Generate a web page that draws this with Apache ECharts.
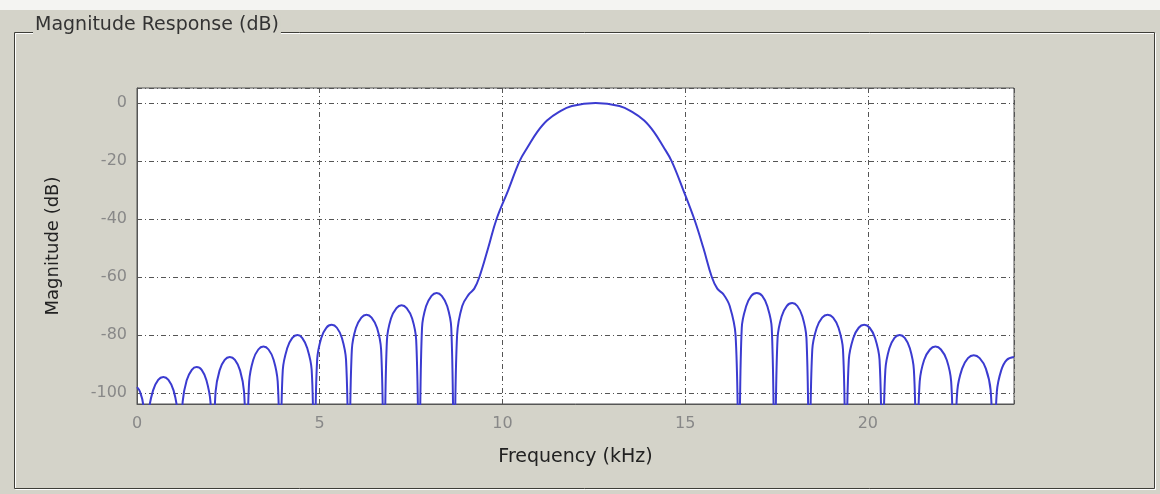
<!DOCTYPE html>
<html lang="en">
<head>
    <meta charset="UTF-8">
    <title>Magnitude Response (dB)</title>
    <script src="https://cdn.jsdelivr.net/npm/echarts@6/dist/echarts.min.js"></script>
</head>
<body style="margin:0;background:#d4d3c9;">
<div id="main" style="width: 1160px;height: 494px;"></div>
</body>
    <script type="text/javascript">
        // frequency (kHz) and magnitude (dB); nulls sit below the axis and get clipped
        var freqKHz = [
            0.00, 0.08, 0.17, 0.25,
            0.32, 0.44, 0.58, 0.72, 0.86, 1.00, 1.11, 1.18,
            1.25, 1.36, 1.50, 1.63, 1.77, 1.90, 2.01, 2.08,
            2.15, 2.26, 2.40, 2.54, 2.68, 2.82, 2.93, 3.00,
            3.07, 3.18, 3.32, 3.46, 3.60, 3.74, 3.85, 3.92,
            3.99, 4.11, 4.25, 4.39, 4.52, 4.66, 4.78, 4.85,
            4.93, 5.04, 5.18, 5.33, 5.47, 5.61, 5.72, 5.80,
            5.88, 5.99, 6.14, 6.28, 6.42, 6.57, 6.68, 6.76,
            6.84, 6.95, 7.10, 7.24, 7.38, 7.53, 7.64, 7.72,
            7.80, 7.91, 8.06, 8.20, 8.34, 8.49, 8.60, 8.68,
            8.76, 8.90, 9.08, 9.23, 9.37, 9.61, 9.84, 10.16, 10.47, 10.70, 10.95, 11.22, 11.55, 11.90,
            12.55,
            13.20, 13.55, 13.88, 14.15, 14.40, 14.63, 14.95, 15.25, 15.50, 15.73, 15.88, 16.05, 16.22, 16.38, 16.47,
            16.55, 16.67, 16.81, 16.96, 17.11, 17.25, 17.37, 17.45,
            17.53, 17.64, 17.78, 17.93, 18.07, 18.21, 18.32, 18.40,
            18.48, 18.60, 18.75, 18.90, 19.05, 19.20, 19.32, 19.40,
            19.48, 19.60, 19.75, 19.90, 20.05, 20.20, 20.32, 20.40,
            20.48, 20.59, 20.73, 20.87, 21.01, 21.15, 21.26, 21.34,
            21.42, 21.54, 21.70, 21.85, 22.00, 22.16, 22.28, 22.36,
            22.45, 22.58, 22.74, 22.90, 23.06, 23.23, 23.36, 23.45,
            23.53, 23.65, 23.80, 24.00
        ];
        var magDB = [
            -98, -99.5, -104, -125,
            -106.5, -99.1, -95.5, -94.5, -95.5, -99.1, -106.5, -125,
            -103, -95.6, -92, -91, -92, -95.6, -103, -125,
            -99.6, -92.2, -88.6, -87.6, -88.6, -92.2, -99.6, -125,
            -96, -88.6, -85, -84, -85, -88.6, -96, -125,
            -92, -84.6, -81, -80, -81, -84.6, -92, -125,
            -88.5, -81.1, -77.5, -76.5, -77.5, -81.1, -88.5, -125,
            -85, -77.6, -74, -73, -74, -77.6, -85, -125,
            -81.7, -74.3, -70.7, -69.7, -70.7, -74.3, -81.7, -125,
            -77.5, -70.1, -66.5, -65.5, -66.5, -70.1, -77.5, -125,
            -80, -70, -66, -64, -60, -50, -40, -30, -20, -15, -10, -6, -3, -1,
            0,
            -1, -3, -6, -10, -15, -20, -30, -40, -50, -60, -64, -66, -70, -80, -125,
            -77.5, -70.1, -66.5, -65.5, -66.5, -70.1, -77.5, -125,
            -81, -73.6, -70, -69, -70, -73.6, -81, -125,
            -85, -77.6, -74, -73, -74, -77.6, -85, -125,
            -88.5, -81.1, -77.5, -76.5, -77.5, -81.1, -88.5, -125,
            -92, -84.6, -81, -80, -81, -84.6, -92, -125,
            -96, -88.6, -85, -84, -85, -88.6, -96, -125,
            -99, -91.6, -88, -87, -88, -91.6, -99, -125,
            -99.6, -92.2, -88.6, -87.6
        ];
        var panelTitle = 'Magnitude Response (dB)';
        var xName = 'Frequency (kHz)';
        var yName = 'Magnitude (dB)';

        var points = [];
        for (var i = 0; i < freqKHz.length; i++) {
            points.push([freqKHz[i], magDB[i]]);
        }

        var myChart = echarts.init(document.getElementById('main'));
        var font = 'DejaVu Sans, Verdana, sans-serif';
        var gridLine = { color: '#555', type: [5, 3, 1, 3], width: 1 };

        var option = {
            backgroundColor: '#d4d3c9',
            animation: false,
            graphic: [
                // light strip along the top
                { type: 'rect', left: 0, top: 0, shape: { width: 1160, height: 10 }, style: { fill: '#f4f4f2' } },
                // etched group box
                { type: 'rect', left: 13, top: 31, shape: { width: 1140, height: 456 }, style: { fill: 'none', stroke: '#ffffff', lineWidth: 1 }, z: 1 },
                { type: 'rect', left: 12, top: 30, shape: { width: 1140, height: 456 }, style: { fill: 'none', stroke: '#3e3e38', lineWidth: 1 }, z: 2 },
                { type: 'text', left: 33, top: 16, z: 3,
                  style: { text: panelTitle, fill: '#333', font: '19px ' + font, backgroundColor: '#d4d3c9', padding: [0, 2, 2, 2] } }
            ],
            grid: {
                left: 137, right: 146, top: 88, bottom: 90,
                show: true, backgroundColor: '#ffffff', borderColor: '#555', borderWidth: 1
            },
            xAxis: {
                type: 'value', min: 0, max: 24, splitNumber: 5,
                name: xName, nameLocation: 'middle', nameGap: 44,
                nameTextStyle: { color: '#222', fontSize: 19, fontFamily: font },
                axisLine: { onZero: false, lineStyle: { color: '#555' } },
                axisTick: { inside: true, length: 5, lineStyle: { color: '#555' } },
                axisLabel: { color: '#888', fontSize: 16, fontFamily: font, margin: 12, showMaxLabel: false },
                splitLine: { show: true, lineStyle: gridLine }
            },
            yAxis: {
                type: 'value', min: -103.8, max: 5.2, splitNumber: 5,
                name: yName, nameLocation: 'middle', nameGap: 75,
                nameTextStyle: { color: '#222', fontSize: 18, fontFamily: font },
                axisLine: { show: true, onZero: false, lineStyle: { color: '#555' } },
                axisTick: { show: true, inside: true, length: 5, lineStyle: { color: '#555' } },
                axisLabel: { color: '#888', fontSize: 16, fontFamily: font, margin: 10, showMinLabel: false, showMaxLabel: false },
                splitLine: { show: true, lineStyle: gridLine }
            },
            series: [{
                type: 'line',
                data: points,
                showSymbol: false,
                clip: true,
                smooth: 0.4,
                lineStyle: { color: '#3b3bd0', width: 2 }
            }]
        };
        myChart.setOption(option);
    </script>
</html>
